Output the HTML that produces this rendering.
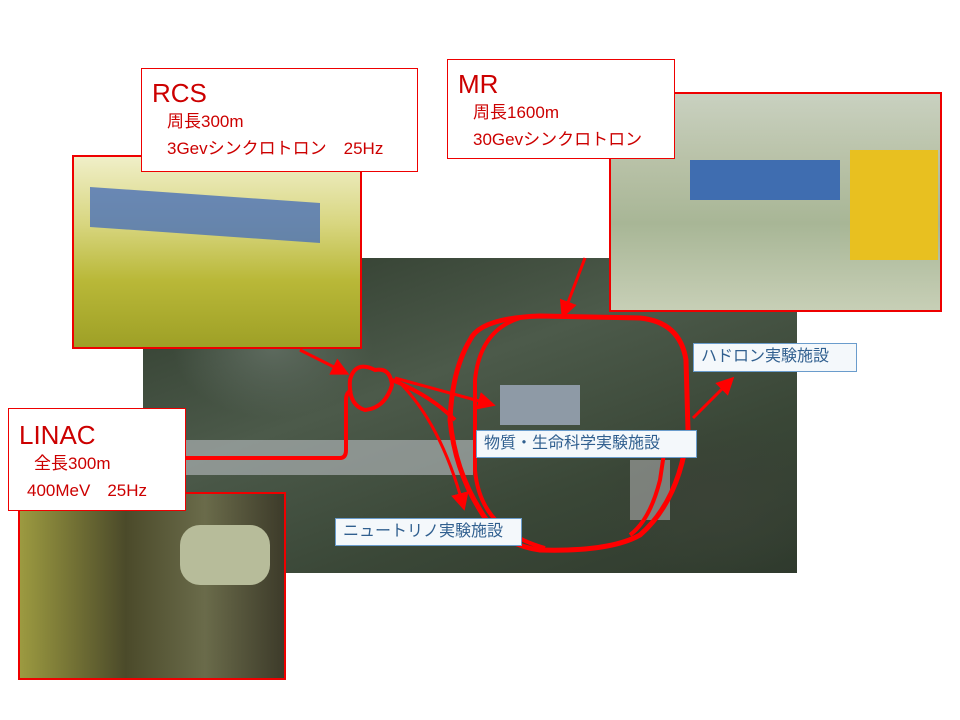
<!DOCTYPE html>
<html><head><meta charset="utf-8"><style>
body{margin:0;width:960px;height:720px;background:#fff;position:relative;overflow:hidden;font-family:"Liberation Sans","Noto Sans CJK JP",sans-serif}
.a{position:absolute}
.lbl{position:absolute;background:#fff;border:1px solid #e00;color:#c00;font-size:17px;line-height:27px}
.tag{position:absolute;background:#f4f8fb;border:1px solid #6a9ccc;color:#305f8f;font-size:16px;line-height:26px;padding-left:7px;box-sizing:border-box}
</style></head><body>
<div class="a" style="left:143px;top:258px;width:654px;height:315px;background:
radial-gradient(ellipse 120px 80px at 570px 240px,#3a4236,transparent),
radial-gradient(ellipse 100px 70px at 130px 90px,#5d6a5e,transparent),
linear-gradient(160deg,#2e3a2c 0%,#4c5a4a 40%,#3a4737 70%,#2f3a2d 100%)"></div>
<div class="a" style="left:500px;top:385px;width:80px;height:40px;background:#8e9aa6"></div>
<div class="a" style="left:143px;top:440px;width:330px;height:35px;background:#a9afb0;opacity:.7"></div>
<div class="a" style="left:630px;top:460px;width:40px;height:60px;background:#aaa;opacity:.6"></div>
<div class="a" style="left:72px;top:155px;width:286px;height:190px;border:2px solid #e00;background:linear-gradient(180deg,#f0efc8 0%,#d8d680 35%,#b9b838 65%,#9ea026 100%)"></div>
<div class="a" style="left:90px;top:195px;width:230px;height:40px;background:#4a70b8;opacity:.8;transform:skewY(4deg)"></div>
<div class="a" style="left:609px;top:92px;width:329px;height:216px;border:2px solid #e00;background:linear-gradient(180deg,#c9d1c0 0%,#b9c2a8 30%,#a8b696 60%,#c7cfb6 100%)"></div>
<div class="a" style="left:690px;top:160px;width:150px;height:40px;background:#3f6db0"></div>
<div class="a" style="left:850px;top:150px;width:88px;height:110px;background:#e8c020"></div>
<div class="a" style="left:18px;top:492px;width:264px;height:184px;border:2px solid #e00;background:linear-gradient(90deg,#9c9a40 0%,#4b4a2a 40%,#6a6b4a 70%,#3d3b2a 100%)"></div>
<div class="a" style="left:180px;top:525px;width:90px;height:60px;border-radius:20px;background:#b7bc9a"></div>
<svg class="a" style="left:0;top:0" width="960" height="720">
<defs><marker id="m" markerWidth="6" markerHeight="6" refX="4" refY="3" orient="auto"><path d="M0,0L6,3L0,6z" fill="#f00"/></marker></defs>
<g fill="none" stroke="#f00" stroke-width="4">
<path d="M185,458 H340 Q346,458 346,450 V400 Q346,392 352,390"/>
<path d="M375,370 Q355,360 350,380 Q348,405 365,410 Q385,408 392,385 Q390,367 375,370 Z" />
<path d="M470,340 Q480,318 540,316 L640,318 Q680,322 686,360 L688,430 Q680,500 640,535 Q610,552 540,550 Q500,545 480,510 Q455,470 450,420 Q452,370 470,340 Z" stroke-width="5"/>
<path d="M520,318 Q480,330 475,380 L475,470 Q480,530 545,548"/>
<path d="M392,380 Q430,395 455,420"/>
<path d="M630,535 Q650,520 660,480 L666,440"/>
</g>
<g stroke="#f00" stroke-width="3" fill="none" marker-end="url(#m)">
<line x1="300" y1="350" x2="344" y2="372"/>
<line x1="585" y1="258" x2="564" y2="313"/>
<path d="M395,378 L490,404"/>
<path d="M395,378 Q440,420 463,505"/>
<line x1="693" y1="418" x2="730" y2="381"/>
</g>
</svg>
<div class="lbl" style="left:141px;top:68px;width:275px;height:102px">
<div style="font-size:26px;line-height:30px;margin:9px 0 0 10px">RCS</div>
<div style="margin-left:25px">周長300m</div>
<div style="margin-left:25px">3Gevシンクロトロン　25Hz</div></div>
<div class="lbl" style="left:447px;top:59px;width:226px;height:98px">
<div style="font-size:26px;line-height:30px;margin:9px 0 0 10px">MR</div>
<div style="margin-left:25px">周長1600m</div>
<div style="margin-left:25px">30Gevシンクロトロン</div></div>
<div class="lbl" style="left:8px;top:408px;width:176px;height:101px">
<div style="font-size:26px;line-height:30px;margin:11px 0 0 10px">LINAC</div>
<div style="margin-left:25px">全長300m</div>
<div style="margin-left:18px">400MeV　25Hz</div></div>
<div class="tag" style="left:693px;top:343px;width:164px;height:29px">ハドロン実験施設</div>
<div class="tag" style="left:476px;top:430px;width:221px;height:28px">物質・生命科学実験施設</div>
<div class="tag" style="left:335px;top:518px;width:187px;height:28px">ニュートリノ実験施設</div>
</body></html>
